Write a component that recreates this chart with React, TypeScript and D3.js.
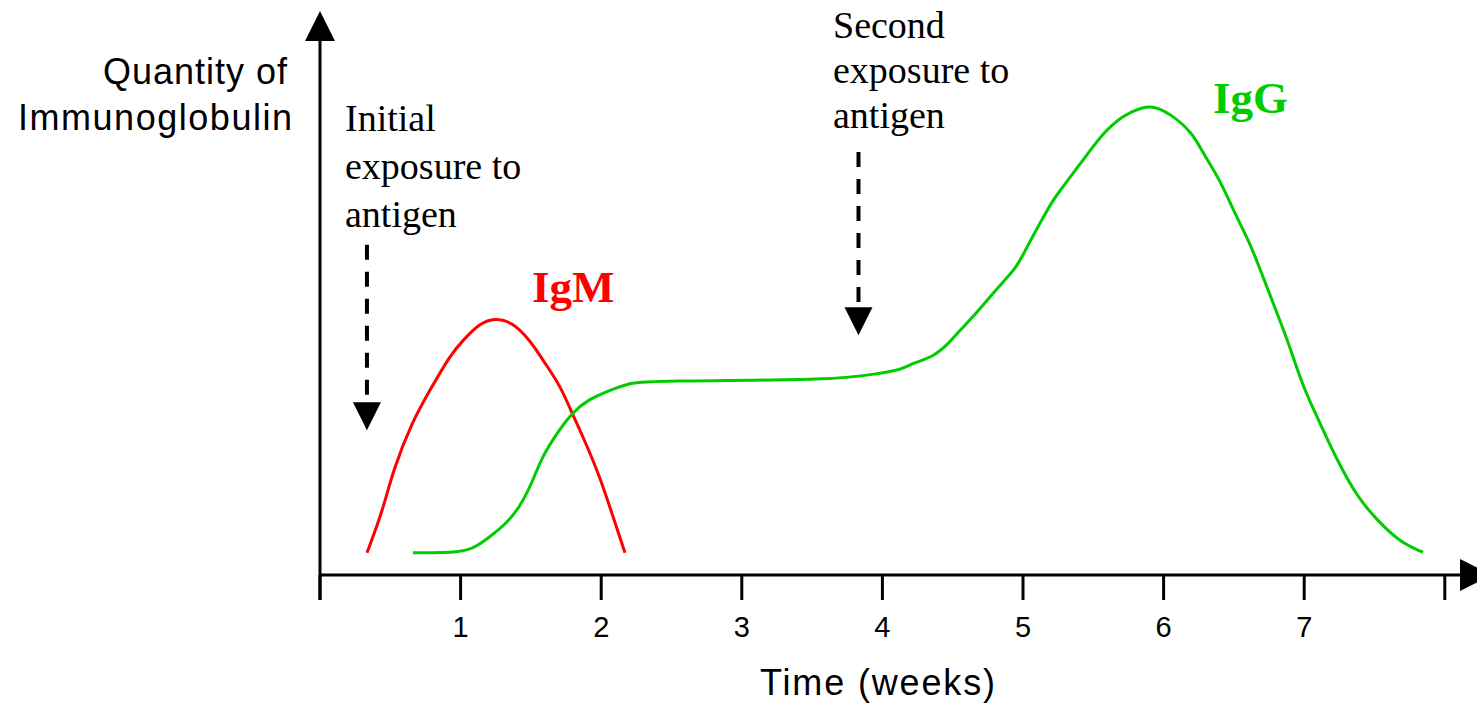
import React, { useEffect } from "react";
import * as d3 from "d3";

// ---- Data (weeks, relative quantity 0-100) ----
const igmWeeks = [0.334, 0.448, 0.519, 0.661, 0.782, 0.925, 1.017, 1.138, 1.245, 1.366, 1.494, 1.586, 1.707, 1.792, 1.871, 1.991, 2.084, 2.169];
const igmValues = [4.0, 11.7, 18.9, 27.9, 33.3, 39.6, 42.3, 45.4, 46.3, 45.6, 42.3, 38.7, 34.2, 29.2, 24.9, 17.7, 10.5, 4.0];

const iggWeeks = [0.661, 1.01, 1.117, 1.209, 1.33, 1.422, 1.508, 1.579, 1.686, 1.792, 1.899, 2.063, 2.205, 2.347, 3.698, 3.983, 4.125, 4.218, 4.36, 4.459, 4.552, 4.644, 4.765, 4.858, 4.957, 5.028, 5.121, 5.213, 5.284, 5.356, 5.455, 5.569, 5.711, 5.853, 5.925, 6.046, 6.209, 6.28, 6.401, 6.494, 6.615, 6.707, 6.807, 6.899, 6.991, 7.112, 7.233, 7.376, 7.518, 7.681, 7.845];
const iggValues = [4.0, 4.0, 5.2, 6.9, 9.4, 12.3, 16.6, 21.3, 25.6, 29.2, 31.5, 33.3, 34.6, 35.0, 35.1, 36.4, 36.9, 38.2, 39.3, 41.4, 44.1, 46.5, 50.1, 52.8, 55.5, 59.1, 63.4, 67.6, 69.9, 72.4, 75.7, 79.6, 82.9, 84.3, 84.5, 83.2, 79.6, 76.0, 71.2, 65.8, 59.8, 53.7, 47.2, 41.1, 33.9, 27.4, 20.7, 14.1, 9.9, 5.9, 4.1];

const tickWeeks = [0, 1, 2, 3, 4, 5, 6, 7, 8];
const tickLabels = ["", "1", "2", "3", "4", "5", "6", "7", ""];

// exposure annotations: week, dashed arrow top value, arrow tip value
const exposureWeeks = [0.334, 3.83];
const exposureTop = [59.5, 76.2];
const exposureTip = [26.1, 43.2];
const exposureLines = [
  ["Initial", "exposure to", "antigen"],
  ["Second", "exposure to", "antigen"],
];

const SANS = "'Liberation Sans', Arial, sans-serif";
const SERIF = "'Liberation Serif', 'Times New Roman', serif";
const RED = "#ff0000";
const GREEN = "#00cc00";

export default function App() {
  useEffect(() => {
    document.body.style.margin = "0";
    document.body.style.overflow = "hidden";
  }, []);

  const W = 1477;
  const H = 703;
  const x = d3.scaleLinear().domain([0, 8]).range([320, 1444.8]);
  const y = d3.scaleLinear().domain([0, 100]).range([575, 20]);

  const line = d3
    .line<[number, number]>()
    .x((d) => x(d[0]))
    .y((d) => y(d[1]))
    .curve(d3.curveBasis);

  const igm: [number, number][] = igmWeeks.map((w, i) => [w, igmValues[i]]);
  const igg: [number, number][] = iggWeeks.map((w, i) => [w, iggValues[i]]);

  const x0 = x(0);
  const y0 = y(0);

  return (
    <svg
      width={W}
      height={H}
      style={{ position: "absolute", left: 0, top: 0, background: "#fff" }}
    >
      <rect x={0} y={0} width={W} height={H} fill="#fff" />

      {/* Y axis */}
      <line x1={x0} y1={600} x2={x0} y2={38} stroke="#000" strokeWidth={3} />
      <polygon points={`${x0},11 ${x0 - 15},41 ${x0 + 15},41`} fill="#000" />

      {/* X axis */}
      <line x1={x0} y1={y0} x2={1462} y2={y0} stroke="#000" strokeWidth={3} />
      <polygon points={`1460,${y0 - 16} 1492,${y0} 1460,${y0 + 16}`} fill="#000" />

      {tickWeeks.map((t, i) => (
        <g key={t}>
          <line x1={x(t)} y1={y0} x2={x(t)} y2={600} stroke="#000" strokeWidth={3} />
          {tickLabels[i] && (
            <text
              x={x(t)}
              y={637}
              textAnchor="middle"
              fontFamily={SANS}
              fontSize={29}
              fill="#000"
            >
              {tickLabels[i]}
            </text>
          )}
        </g>
      ))}

      {/* Axis titles */}
      <text x={103} y={84} fontFamily={SANS} fontSize={36} textLength={184} lengthAdjust="spacing" fill="#000">
        Quantity of
      </text>
      <text x={18} y={130} fontFamily={SANS} fontSize={36} textLength={274} lengthAdjust="spacing" fill="#000">
        Immunoglobulin
      </text>
      <text x={760} y={695} fontFamily={SANS} fontSize={36} textLength={235} lengthAdjust="spacing" fill="#000">
        Time (weeks)
      </text>

      {/* Curves */}
      <path d={line(igm) || ""} fill="none" stroke={RED} strokeWidth={3} />
      <path d={line(igg) || ""} fill="none" stroke={GREEN} strokeWidth={3} />

      {/* Curve labels */}
      <text x={532} y={302} fontFamily={SERIF} fontWeight="bold" fontSize={45} fill={RED}>
        IgM
      </text>
      <text x={1213} y={113} fontFamily={SERIF} fontWeight="bold" fontSize={45} fill={GREEN}>
        IgG
      </text>

      {/* Exposure annotations */}
      {exposureWeeks.map((w, i) => {
        const ax = x(w);
        const top = y(exposureTop[i]);
        const tip = y(exposureTip[i]);
        const base = tip - 28;
        const textX = i === 0 ? 345 : 833;
        const textY = i === 0 ? 131 : 38;
        const lineGap = i === 0 ? 48 : 45;
        return (
          <g key={i}>
            <line
              x1={ax}
              y1={top}
              x2={ax}
              y2={base - 3}
              stroke="#000"
              strokeWidth={4}
              strokeDasharray="15 12"
            />
            <polygon points={`${ax - 14},${base} ${ax + 14},${base} ${ax},${tip}`} fill="#000" />
            {exposureLines[i].map((s, j) => (
              <text
                key={j}
                x={textX}
                y={textY + j * lineGap}
                fontFamily={SERIF}
                fontSize={38}
                fill="#000"
              >
                {s}
              </text>
            ))}
          </g>
        );
      })}
    </svg>
  );
}
